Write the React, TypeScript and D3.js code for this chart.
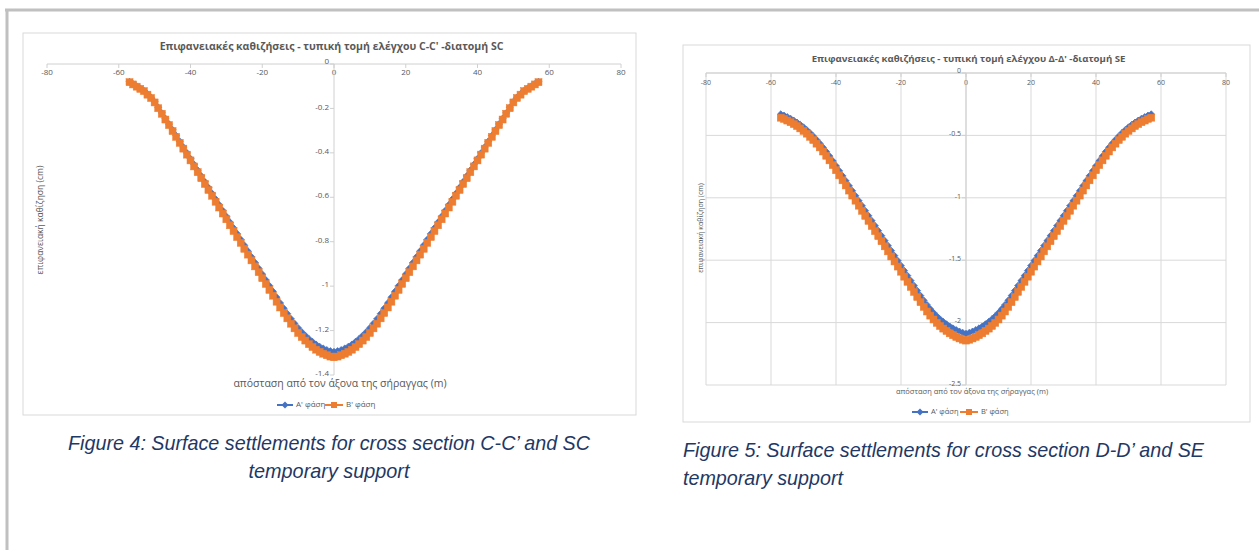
import React from 'react';
import * as d3 from 'd3';

// ---------- DATA ----------
const DIST = [
  -57,-56,-55,-54,-53,-52,-51,-50,-49,-48,-47,-46,-45,-44,-43,-42,-41,-40,-39,-38,
  -37,-36,-35,-34,-33,-32,-31,-30,-29,-28,-27,-26,-25,-24,-23,-22,-21,-20,-19,-18,
  -17,-16,-15,-14,-13,-12,-11,-10,-9,-8,-7,-6,-5,-4,-3,-2,-1,0,
  1,2,3,4,5,6,7,8,9,10,11,12,13,14,15,16,17,18,19,20,21,22,23,24,25,26,27,28,29,30,
  31,32,33,34,35,36,37,38,39,40,41,42,43,44,45,46,47,48,49,50,51,52,53,54,55,56,57,
];

// Section C-C' (SC)
const CC_PHASE_A = [
  -0.080,-0.090,-0.100,-0.110,-0.120,-0.135,-0.150,-0.170,-0.195,-0.220,
  -0.245,-0.270,-0.296,-0.322,-0.348,-0.374,-0.400,-0.426,-0.452,-0.478,
  -0.504,-0.530,-0.556,-0.582,-0.608,-0.634,-0.660,-0.686,-0.712,-0.738,
  -0.764,-0.790,-0.816,-0.842,-0.868,-0.894,-0.920,-0.946,-0.972,-0.998,
  -1.024,-1.050,-1.076,-1.100,-1.124,-1.147,-1.168,-1.188,-1.206,-1.222,
  -1.237,-1.250,-1.262,-1.272,-1.280,-1.287,-1.292,
  -1.295,
  -1.292,-1.287,-1.280,-1.272,-1.262,-1.250,-1.237,
  -1.222,-1.206,-1.188,-1.168,-1.147,-1.124,-1.100,-1.076,-1.050,-1.024,
  -0.998,-0.972,-0.946,-0.920,-0.894,-0.868,-0.842,-0.816,-0.790,-0.764,
  -0.738,-0.712,-0.686,-0.660,-0.634,-0.608,-0.582,-0.556,-0.530,-0.504,
  -0.478,-0.452,-0.426,-0.400,-0.374,-0.348,-0.322,-0.296,-0.270,-0.245,
  -0.220,-0.195,-0.170,-0.150,-0.135,-0.120,-0.110,-0.100,-0.090,-0.080,
];
const CC_PHASE_B = [
  -0.082,-0.092,-0.102,-0.112,-0.122,-0.138,-0.153,-0.173,-0.199,-0.224,
  -0.250,-0.275,-0.302,-0.328,-0.355,-0.381,-0.408,-0.434,-0.461,-0.487,
  -0.514,-0.540,-0.567,-0.593,-0.620,-0.646,-0.673,-0.699,-0.726,-0.752,
  -0.779,-0.805,-0.832,-0.858,-0.884,-0.911,-0.937,-0.964,-0.990,-1.017,
  -1.043,-1.070,-1.096,-1.121,-1.145,-1.169,-1.190,-1.211,-1.229,-1.245,
  -1.261,-1.274,-1.286,-1.296,-1.304,-1.311,-1.317,
  -1.320,
  -1.317,-1.311,-1.304,-1.296,-1.286,-1.274,-1.261,
  -1.245,-1.229,-1.211,-1.190,-1.169,-1.145,-1.121,-1.096,-1.070,-1.043,
  -1.017,-0.990,-0.964,-0.937,-0.911,-0.884,-0.858,-0.832,-0.805,-0.779,
  -0.752,-0.726,-0.699,-0.673,-0.646,-0.620,-0.593,-0.567,-0.540,-0.514,
  -0.487,-0.461,-0.434,-0.408,-0.381,-0.355,-0.328,-0.302,-0.275,-0.250,
  -0.224,-0.199,-0.173,-0.153,-0.138,-0.122,-0.112,-0.102,-0.092,-0.082,
];

// Section Δ-Δ' (SE)
const DD_PHASE_A = [
  -0.330,-0.340,-0.352,-0.365,-0.380,-0.396,-0.414,-0.434,-0.456,-0.480,
  -0.506,-0.534,-0.564,-0.596,-0.630,-0.666,-0.704,-0.744,-0.784,-0.824,
  -0.864,-0.904,-0.944,-0.984,-1.024,-1.064,-1.104,-1.144,-1.184,-1.224,
  -1.264,-1.304,-1.344,-1.384,-1.424,-1.464,-1.504,-1.544,-1.584,-1.624,
  -1.664,-1.704,-1.744,-1.784,-1.822,-1.858,-1.891,-1.921,-1.948,-1.972,
  -1.993,-2.012,-2.030,-2.045,-2.059,-2.071,-2.081,
  -2.088,
  -2.081,-2.071,-2.059,-2.045,-2.030,-2.012,-1.993,
  -1.972,-1.948,-1.921,-1.891,-1.858,-1.822,-1.784,-1.744,-1.704,-1.664,
  -1.624,-1.584,-1.544,-1.504,-1.464,-1.424,-1.384,-1.344,-1.304,-1.264,
  -1.224,-1.184,-1.144,-1.104,-1.064,-1.024,-0.984,-0.944,-0.904,-0.864,
  -0.824,-0.784,-0.744,-0.704,-0.666,-0.630,-0.596,-0.564,-0.534,-0.506,
  -0.480,-0.456,-0.434,-0.414,-0.396,-0.380,-0.365,-0.352,-0.340,-0.330,
];
const DD_PHASE_B = [
  -0.358,-0.368,-0.381,-0.394,-0.409,-0.425,-0.444,-0.464,-0.486,-0.511,
  -0.537,-0.566,-0.596,-0.629,-0.663,-0.700,-0.738,-0.779,-0.820,-0.860,
  -0.901,-0.942,-0.982,-1.023,-1.063,-1.104,-1.145,-1.185,-1.226,-1.267,
  -1.307,-1.348,-1.389,-1.429,-1.470,-1.510,-1.551,-1.592,-1.632,-1.673,
  -1.714,-1.754,-1.795,-1.836,-1.874,-1.911,-1.944,-1.975,-2.002,-2.027,
  -2.048,-2.067,-2.086,-2.101,-2.115,-2.127,-2.137,
  -2.144,
  -2.137,-2.127,-2.115,-2.101,-2.086,-2.067,-2.048,
  -2.027,-2.002,-1.975,-1.944,-1.911,-1.874,-1.836,-1.795,-1.754,-1.714,
  -1.673,-1.632,-1.592,-1.551,-1.510,-1.470,-1.429,-1.389,-1.348,-1.307,
  -1.267,-1.226,-1.185,-1.145,-1.104,-1.063,-1.023,-0.982,-0.942,-0.901,
  -0.860,-0.820,-0.779,-0.738,-0.700,-0.663,-0.629,-0.596,-0.566,-0.537,
  -0.511,-0.486,-0.464,-0.444,-0.425,-0.409,-0.394,-0.381,-0.368,-0.358,
];

const X_TICKS = [-80, -60, -40, -20, 0, 20, 40, 60, 80];
const CC_Y_TICKS = [0, -0.2, -0.4, -0.6, -0.8, -1, -1.2, -1.4];
const DD_Y_TICKS = [0, -0.5, -1, -1.5, -2, -2.5];
const SERIES_NAMES = ["A' φάση", "B' φάση"];
const CC_TITLE = "Επιφανειακές καθιζήσεις - τυπική τομή ελέγχου C-C' -διατομή SC";
const DD_TITLE = "Επιφανειακές καθιζήσεις - τυπική τομή ελέγχου Δ-Δ' -διατομή SE";
const CC_XTITLE = "απόσταση από τον άξονα της σήραγγας (m)";
const DD_XTITLE = "απόσταση  από τον άξονα της σήραγγας (m)";
const YTITLE = "επιφανειακή καθίζηση (cm)";
const CAP4 = ["Figure 4: Surface settlements for cross section C-C\u2019 and SC", "temporary support"];
const CAP5 = ["Figure 5: Surface settlements for cross section D-D\u2019 and SE", "temporary support"];

const BLUE = '#4472C4';
const ORANGE = '#ED7D31';
const TXT = '#595959';
const FONT = "'Open Sans', 'Noto Sans', sans-serif";

type Cfg = {
  box: [number, number, number, number];
  title: string; titleY: number; titleSize: number;
  xr: [number, number]; yr: [number, number]; yMin: number;
  yTicks: number[]; grid: boolean; tickSize: number;
  xLabelY: number; a: number[]; b: number[];
  xTitle: string; xTitleY: number; xTitleSize: number;
  yTitleX: number; yTitleY: number; yTitleSize: number;
  legendY: number; legendX: number; legendSize: number;
  marker: number;
};

function Panel({ c }: { c: Cfg }) {
  const x = d3.scaleLinear().domain([-80, 80]).range(c.xr);
  const y = d3.scaleLinear().domain([c.yMin, 0]).range(c.yr);
  const line = d3.line<number>().x((_, i) => x(DIST[i])).y(d => y(d));
  const [bx, by, bw, bh] = c.box;
  const m = c.marker;
  const dm = 3.4;
  const diamond = (cx: number, cy: number) =>
    `M${cx},${cy - dm}L${cx + dm},${cy}L${cx},${cy + dm}L${cx - dm},${cy}Z`;
  const x0 = x(0);
  return (
    <g fontFamily={FONT}>
      <rect x={bx} y={by} width={bw} height={bh} fill="#fff" stroke="#d9d9d9" strokeWidth={1} />
      <text x={bx + bw / 2 + 2} y={c.titleY} textAnchor="middle" dominantBaseline="middle"
        fontSize={c.titleSize} fontWeight="bold" fill={TXT}>{c.title}</text>
      {c.grid && X_TICKS.map(t => (
        <line key={'gx' + t} x1={x(t)} x2={x(t)} y1={c.yr[1]} y2={c.yr[0]} stroke="#d9d9d9" strokeWidth={1} />
      ))}
      {c.grid && c.yTicks.map(t => (
        <line key={'gy' + t} x1={c.xr[0]} x2={c.xr[1]} y1={y(t)} y2={y(t)} stroke="#d9d9d9" strokeWidth={1} />
      ))}
      {/* x axis along top */}
      <line x1={c.xr[0]} x2={c.xr[1]} y1={y(0)} y2={y(0)} stroke="#d0d0d0" strokeWidth={1} />
      {X_TICKS.map(t => (
        <g key={'xt' + t}>
          <line x1={x(t)} x2={x(t)} y1={y(0)} y2={y(0) + 4} stroke="#d0d0d0" />
          <text x={x(t)} y={c.xLabelY} textAnchor="middle" dominantBaseline="middle" fontSize={c.tickSize} fill={TXT}>{t}</text>
        </g>
      ))}
      {/* y axis at 0 */}
      <line x1={x0} x2={x0} y1={c.yr[1]} y2={c.yr[0]} stroke="#d0d0d0" strokeWidth={1} />
      {c.yTicks.map(t => (
        <g key={'yt' + t}>
          <line x1={x0 - 4} x2={x0} y1={y(t)} y2={y(t)} stroke="#d0d0d0" />
          <text x={x0 - 5} y={t === 0 ? y(t) - 2 : y(t) - 1} textAnchor="end" dominantBaseline="middle" fontSize={c.tickSize} fill={TXT}>{String(t)}</text>
        </g>
      ))}
      {/* series */}
      <path d={line(c.a) || ''} fill="none" stroke={BLUE} strokeWidth={2.25} />
      {c.a.map((v, i) => <path key={'a' + i} d={diamond(x(DIST[i]), y(v))} fill={BLUE} stroke={BLUE} strokeWidth={0.75} />)}
      <path d={line(c.b) || ''} fill="none" stroke={ORANGE} strokeWidth={2.25} />
      {c.b.map((v, i) => <rect key={'b' + i} x={x(DIST[i]) - m / 2} y={y(v) - m / 2} width={m} height={m} fill={ORANGE} stroke={ORANGE} strokeWidth={0.5} />)}
      {/* axis titles */}
      <text x={x0 + 6} y={c.xTitleY} textAnchor="middle" dominantBaseline="middle" fontSize={c.xTitleSize} fill={TXT}>{c.xTitle}</text>
      <text transform={`translate(${c.yTitleX},${c.yTitleY}) rotate(-90)`} textAnchor="middle" dominantBaseline="middle" fontSize={c.yTitleSize} fill={TXT}>{YTITLE}</text>
      {/* legend */}
      <g transform={`translate(${c.legendX},${c.legendY})`} fontSize={c.legendSize} fill={TXT}>
        <line x1={0} x2={16} y1={0} y2={0} stroke={BLUE} strokeWidth={2} />
        <path d={`M8,-3.5L11.5,0L8,3.5L4.5,0Z`} fill={BLUE} />
        <text x={19} y={0} dominantBaseline="middle">{SERIES_NAMES[0]}</text>
        <line x1={48} x2={66} y1={0} y2={0} stroke={ORANGE} strokeWidth={2} />
        <rect x={54} y={-3} width={6} height={6} fill={ORANGE} />
        <text x={69} y={0} dominantBaseline="middle">{SERIES_NAMES[1]}</text>
      </g>
    </g>
  );
}

const CC_CFG: Cfg = {
  box: [23, 33, 613, 382], title: CC_TITLE, titleY: 47, titleSize: 10.5,
  xr: [47, 621], yr: [375, 64], yMin: -1.4, yTicks: CC_Y_TICKS, grid: false, tickSize: 8,
  xLabelY: 73, a: CC_PHASE_A, b: CC_PHASE_B,
  xTitle: CC_XTITLE, xTitleY: 384, xTitleSize: 10.5,
  yTitleX: 41, yTitleY: 220, yTitleSize: 8.5,
  legendY: 405, legendX: 277, legendSize: 8, marker: 7,
};
const DD_CFG: Cfg = {
  box: [683, 45, 567, 377], title: DD_TITLE, titleY: 59, titleSize: 9.6,
  xr: [706, 1226], yr: [385, 73], yMin: -2.5, yTicks: DD_Y_TICKS, grid: true, tickSize: 7,
  xLabelY: 83, a: DD_PHASE_A, b: DD_PHASE_B,
  xTitle: DD_XTITLE, xTitleY: 392, xTitleSize: 7.5,
  yTitleX: 701, yTitleY: 228, yTitleSize: 7,
  legendY: 412, legendX: 912, legendSize: 7.5, marker: 7,
};

export default function App() {
  const capFont = "'Liberation Sans Narrow', 'Liberation Sans', Arial, sans-serif";
  return (
    <svg width={1259} height={550} style={{ position: 'absolute', left: 0, top: 0, background: '#fff' }}>
      <rect x={0} y={0} width={1259} height={550} fill="#fff" />
      <line x1={5} x2={1259} y1={10} y2={10} stroke="#c0c0c0" strokeWidth={3} />
      <line x1={7} x2={7} y1={9} y2={550} stroke="#c0c0c0" strokeWidth={3} />
      <Panel c={CC_CFG} />
      <Panel c={DD_CFG} />
      <g fontFamily={capFont} fontStyle="italic" fontSize={21} fill="#1f3864">
        <text x={329} y={450} textAnchor="middle" textLength={522} lengthAdjust="spacingAndGlyphs">{CAP4[0]}</text>
        <text x={329} y={478} textAnchor="middle" textLength={161} lengthAdjust="spacingAndGlyphs">{CAP4[1]}</text>
        <text x={683} y={457} textLength={521} lengthAdjust="spacingAndGlyphs">{CAP5[0]}</text>
        <text x={683} y={485} textLength={160} lengthAdjust="spacingAndGlyphs">{CAP5[1]}</text>
      </g>
    </svg>
  );
}
